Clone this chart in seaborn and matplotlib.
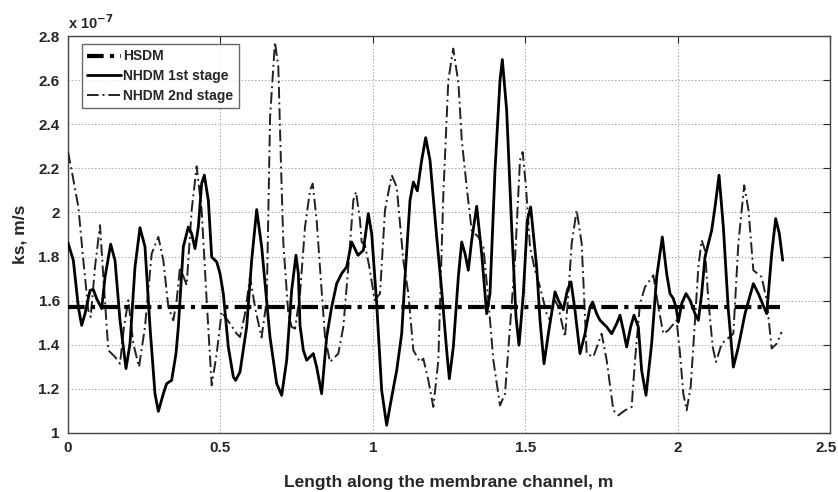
import numpy as np
import pandas as pd
import matplotlib
matplotlib.use("Agg")
import matplotlib.pyplot as plt
import matplotlib.transforms as mtransforms
import seaborn as sns

# values in units of 1e-7 m/s
hsdm_x = [0.0, 2.335]
hsdm_y = [1.571, 1.571]

stage1_x = [0.0, 0.0175, 0.0339, 0.0448, 0.0558, 0.0722, 0.0831, 0.0941, 0.1105, 0.1214, 0.140,
            0.1542, 0.1706, 0.1903, 0.2034, 0.2198, 0.2362, 0.2526, 0.2690, 0.2854, 0.2964, 0.3128,
            0.3237, 0.3401, 0.3543, 0.3620, 0.3784, 0.3948, 0.4057, 0.4167, 0.4276, 0.4385, 0.4473,
            0.4604, 0.4714, 0.4878, 0.4987, 0.5096, 0.5260, 0.5424, 0.5501, 0.5643, 0.5862, 0.6026,
            0.6190, 0.6354, 0.6627, 0.6846, 0.7011, 0.7175, 0.7338, 0.7480, 0.7557, 0.7612, 0.7721,
            0.7830, 0.8049, 0.8158, 0.8322, 0.8486, 0.8650, 0.8814, 0.8978, 0.9143, 0.9307, 0.9514,
            0.9690, 0.9853, 0.9963, 1.0127, 1.0291, 1.0455, 1.0620, 1.0784, 1.0948, 1.1057, 1.1221,
            1.1330, 1.1461, 1.1604, 1.1735, 1.1877, 1.2096, 1.2260, 1.2423, 1.2511, 1.2642, 1.2806,
            1.2916, 1.3025, 1.3134, 1.3244, 1.3408, 1.3572, 1.3736, 1.3845, 1.4009, 1.4173, 1.425,
            1.4392, 1.4556, 1.4698, 1.4797, 1.4939, 1.5070, 1.5179, 1.5267, 1.5376, 1.5486, 1.5617,
            1.5759, 1.5978, 1.6087, 1.6251, 1.6383, 1.6503, 1.6634, 1.6798, 1.6962, 1.7126, 1.7213,
            1.7344, 1.7454, 1.7673, 1.7837, 1.8001, 1.8110, 1.8220, 1.8329, 1.8460, 1.8570, 1.8712,
            1.8820, 1.8963, 1.9149, 1.9313, 1.9499, 1.9641, 1.9751, 1.9860, 1.9948, 2.0024, 2.0134,
            2.0276, 2.0407, 2.0571, 2.0681, 2.0790, 2.0899, 2.1118, 2.1228, 2.1359, 2.1501, 2.1665,
            2.1829, 2.1993, 2.2212, 2.2485, 2.2649, 2.2923, 2.3087, 2.3218, 2.3338, 2.3447]
stage1_y = [1.862, 1.783, 1.571, 1.488, 1.541, 1.647, 1.650, 1.609, 1.564, 1.707, 1.856,
            1.783, 1.511, 1.292, 1.405, 1.753, 1.931, 1.844, 1.481, 1.178, 1.098, 1.178,
            1.224, 1.239, 1.360, 1.481, 1.844, 1.934, 1.904, 1.836, 1.934, 2.131, 2.169,
            2.055, 1.798, 1.776, 1.723, 1.632, 1.390, 1.254, 1.239, 1.277, 1.481, 1.783,
            2.013, 1.844, 1.435, 1.224, 1.171, 1.330, 1.647, 1.806, 1.723, 1.488, 1.375,
            1.330, 1.360, 1.299, 1.178, 1.435, 1.571, 1.677, 1.723, 1.753, 1.866, 1.806,
            1.828, 1.995, 1.904, 1.587, 1.194, 1.035, 1.163, 1.284, 1.450, 1.707, 2.055,
            2.138, 2.098, 2.237, 2.339, 2.237, 1.889, 1.647, 1.375, 1.246, 1.390, 1.707,
            1.866, 1.813, 1.738, 1.874, 2.028, 1.813, 1.541, 1.632, 2.191, 2.599, 2.693,
            2.463, 1.934, 1.526, 1.398, 1.632, 1.964, 2.025, 1.904, 1.753, 1.511, 1.314,
            1.450, 1.640, 1.602, 1.559, 1.647, 1.685, 1.556, 1.360, 1.450, 1.571, 1.594,
            1.541, 1.511, 1.481, 1.450, 1.496, 1.534, 1.466, 1.390, 1.481, 1.534, 1.481,
            1.284, 1.171, 1.405, 1.707, 1.889, 1.723, 1.632, 1.609, 1.571, 1.503, 1.587,
            1.632, 1.602, 1.541, 1.511, 1.632, 1.798, 1.919, 2.025, 2.169, 1.934, 1.556,
            1.299, 1.390, 1.541, 1.677, 1.632, 1.541, 1.813, 1.972, 1.904, 1.783]

stage2_x = [0.0, 0.012, 0.0339, 0.0503, 0.0667, 0.0744, 0.0886, 0.105, 0.1159, 0.1323, 0.1542,
            0.1706, 0.1837, 0.1979, 0.2143, 0.2329, 0.2526, 0.2745, 0.2964, 0.3128, 0.3292, 0.3456,
            0.3565, 0.3675, 0.3893, 0.4057, 0.4221, 0.4385, 0.4549, 0.4714, 0.4878, 0.5041, 0.5315,
            0.5534, 0.5643, 0.5807, 0.5971, 0.615, 0.635, 0.652, 0.663, 0.679, 0.690, 0.699, 0.7065,
            0.7228, 0.7338, 0.745, 0.7612, 0.7776, 0.7940, 0.8028, 0.8158, 0.8289, 0.8432, 0.8596,
            0.8869, 0.9033, 0.9197, 0.9361, 0.9449, 0.9580, 0.9635, 0.9744, 0.9887, 1.0061, 1.0236,
            1.0400, 1.0619, 1.0784, 1.1002, 1.1166, 1.1330, 1.1549, 1.1658, 1.1822, 1.1986, 1.2150,
            1.2315, 1.2478, 1.264, 1.281, 1.292, 1.308, 1.3244, 1.3463, 1.3627, 1.3791, 1.3955,
            1.4173, 1.4337, 1.4501, 1.4665, 1.4829, 1.4917, 1.5026, 1.5157, 1.5321, 1.5486, 1.5704,
            1.5814, 1.5978, 1.6087, 1.6306, 1.6416, 1.6525, 1.6689, 1.6853, 1.7017, 1.7235, 1.7508,
            1.7673, 1.7892, 1.8056, 1.8275, 1.8493, 1.8602, 1.8766, 1.8930, 1.9204, 1.9368, 1.9532,
            1.9696, 1.9967, 2.0079, 2.0188, 2.0297, 2.0429, 2.0571, 2.0681, 2.0790, 2.0899, 2.1009,
            2.1151, 2.1260, 2.1446, 2.1829, 2.1993, 2.2185, 2.2327, 2.2485, 2.2758, 2.2923, 2.3087,
            2.3250, 2.3414]
stage2_y = [2.274, 2.191, 2.025, 1.783, 1.556, 1.526, 1.753, 1.942, 1.707, 1.375, 1.345,
            1.314, 1.481, 1.602, 1.405, 1.299, 1.481, 1.813, 1.889, 1.783, 1.571, 1.511,
            1.602, 1.753, 1.670, 2.010, 2.209, 2.010, 1.602, 1.216, 1.360, 1.549, 1.496,
            1.450, 1.435, 1.541, 1.707, 1.560, 1.433, 1.602, 2.433, 2.773, 2.660, 2.206, 1.859,
            1.541, 1.481, 1.473, 1.632, 1.934, 2.100, 2.131, 1.965, 1.707, 1.435, 1.322,
            1.360, 1.481, 1.753, 2.055, 2.093, 1.965, 1.866, 1.851, 1.753, 1.602, 1.632,
            2.010, 2.169, 2.116, 1.783, 1.632, 1.375, 1.322, 1.337, 1.239, 1.118, 1.330,
            2.085, 2.599, 2.743, 2.585, 2.327, 2.116, 1.919, 1.889, 1.844, 1.602, 1.330,
            1.125, 1.178, 1.481, 1.783, 2.237, 2.274, 2.116, 1.844, 1.738, 1.662, 1.541,
            1.511, 1.602, 1.571, 1.435, 1.632, 1.859, 2.010, 1.859, 1.360, 1.345, 1.450,
            1.330, 1.103, 1.080, 1.103, 1.118, 1.330, 1.587, 1.662, 1.715, 1.571, 1.450,
            1.466, 1.511, 1.360, 1.178, 1.103, 1.209, 1.511, 1.753, 1.874, 1.828, 1.602,
            1.390, 1.322, 1.405, 1.450, 1.859, 2.123, 2.010, 1.738, 1.707, 1.602, 1.383,
            1.405, 1.458]

x_ticks = [0, 0.5, 1, 1.5, 2, 2.5]
x_tick_labels = ["0", "0.5", "1", "1.5", "2", "2.5"]
y_ticks = [1, 1.2, 1.4, 1.6, 1.8, 2, 2.2, 2.4, 2.6, 2.8]
y_tick_labels = ["1", "1.2", "1.4", "1.6", "1.8", "2", "2.2", "2.4", "2.6", "2.8"]

sns.set_style("white")
plt.rcParams['font.family'] = ['Liberation Sans', 'DejaVu Sans']
plt.rcParams['font.weight'] = 'bold'

fig = plt.figure(figsize=(8.38, 4.92), dpi=100)
ax = fig.add_axes([68 / 838, 1 - 433 / 492, (830 - 68) / 838, (433 - 36) / 492])

sns.lineplot(x=stage2_x, y=stage2_y, ax=ax, color="#222222", lw=1.4, sort=False,
             linestyle=(0, (6, 2, 1, 2)), label="NHDM 2nd stage", zorder=3)
sns.lineplot(x=stage1_x, y=stage1_y, ax=ax, color="black", lw=2.0, sort=False,
             linestyle="-", label="NHDM 1st stage", zorder=4)
sns.lineplot(x=hsdm_x, y=hsdm_y, ax=ax, color="black", lw=3.0, sort=False,
             linestyle=(0, (4, 1.5, 1, 1.5)), label="HSDM", zorder=5)
for ln in ax.get_lines():
    ln.set_solid_joinstyle('round')
    ln.set_dash_joinstyle('round')

ax.set_xlim(0, 2.5)
ax.set_ylim(1, 2.8)
ax.set_xticks(x_ticks)
ax.set_xticklabels(x_tick_labels, fontsize=11, fontweight='bold')
ax.set_yticks(y_ticks)
ax.set_yticklabels(y_tick_labels, fontsize=11, fontweight='bold')
ax.tick_params(direction='in', length=5, width=0.8, top=True, right=True, pad=6)
ax.grid(True, linestyle=(0, (1, 2)), color="#999999", lw=0.8)
for s in ax.spines.values():
    s.set_color("#444444")
    s.set_linewidth(1.0)
last = ax.get_xticklabels()[-1]
last.set_transform(last.get_transform() + mtransforms.ScaledTranslation(-4 / 100, 0, fig.dpi_scale_trans))

ax.set_xlabel("Length along the membrane channel, m", fontsize=12.5, fontweight='bold', labelpad=14)
ax.set_ylabel("ks, m/s", fontsize=12.5, fontweight='bold', labelpad=8)
ax.text(0.0, 1.01, "x 10$^{-7}$", transform=ax.transAxes, fontsize=10.5, fontweight='bold',
        ha='left', va='bottom')

handles, labels = ax.get_legend_handles_labels()
order = [2, 1, 0]
leg = ax.legend([handles[i] for i in order], [labels[i] for i in order], loc='upper left',
                bbox_to_anchor=(0.018, 0.98), borderaxespad=0, frameon=True, fancybox=False,
                prop={'weight': 'bold', 'size': 10}, handlelength=2.4, borderpad=0.4,
                labelspacing=0.4, handletextpad=0.2)
leg.get_frame().set_edgecolor("#444444")
leg.get_frame().set_linewidth(1.0)

fig.savefig("out.png", dpi=100)
